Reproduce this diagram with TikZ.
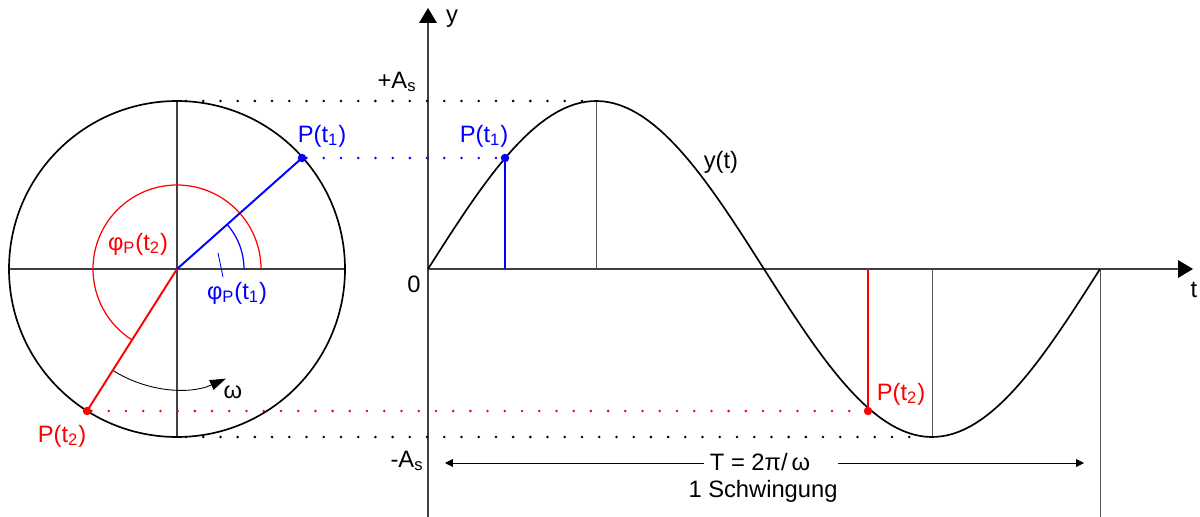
\documentclass[tikz,border=0pt]{standalone}
\usepackage{fontspec}
\setmainfont{Liberation Sans}
\usetikzlibrary{arrows.meta, positioning, calc}
\definecolor{ink}    {HTML}{000000}
\definecolor{axis}   {HTML}{404040}
\definecolor{pblue}  {HTML}{0000FF}
\definecolor{pred}   {HTML}{FF0000}
\tikzset{
  axisline/.style = {draw=axis, line width=0.6pt},
  guide/.style    = {draw=axis!90, line width=0.5pt},
  curve/.style    = {draw=ink, line width=0.95pt},
  phasor/.style   = {line width=1.1pt},
  dots/.style     = {line width=1.6pt, line cap=round,
                     dash pattern=on 0pt off 9.8pt},
  bigarr/.style   = {-{Triangle[length=8.5pt, width=10pt, color=ink]}},
  dimarr/.style   = {draw=ink, line width=0.5pt,
                     -{Triangle[length=4.5pt, width=4.5pt]}},
  pt/.style       = {circle, inner sep=0pt, minimum size=4.8pt},
  labl/.style     = {font=\fontsize{13.5}{16}\selectfont, inner sep=1pt},
}

\begin{document}
\begin{tikzpicture}[x=0.02cm, y=-0.02cm]
  \useasboundingbox (0,0) rectangle (1200,517);

  % circle with axes
  \coordinate (M) at (177,269);
  \draw[axisline] (9,269) -- (345,269);
  \draw[axisline] (177,101) -- (177,437);
  \draw[curve] (M) circle[radius=168];

  % angle arcs
  \draw[pred, line width=0.7pt] ($(M)+(84,0)$) arc[start angle=0, end angle=-237.5, radius=84];
  \draw[pblue, line width=0.7pt] ($(M)+(67,0)$) arc[start angle=0, end angle=-41.3, radius=67];
  \draw[ink, line width=0.5pt, -{Triangle[length=9pt, width=6pt]}]
    ($(M)+(122.5:120)$) arc[start angle=122.5, end angle=66, radius=120];

  % phasors
  \node[pt, fill=pblue] (p1c) at (302,158) {};
  \node[pt, fill=pred]  (p2c) at (87,411) {};
  \draw[phasor, pblue] (M) -- (p1c.center);
  \draw[phasor, pred]  (M) -- (p2c.center);

  % circle labels
  \node[labl, text=pblue] (p1clab) at (322,136) {P(t\textsubscript{1})};
  \node[labl, text=pred]  (p2clab) at (62,436)  {P(t\textsubscript{2})};
  \node[labl, text=pred]  (phitwo) at (138,244) {φ\textsubscript{P}(t\textsubscript{2})};
  \node[labl, text=pblue] (phione) at (237,293) {φ\textsubscript{P}(t\textsubscript{1})};
  \coordinate (phitip) at (218,253);
  \coordinate (phifoot) at (223,277);
  \draw[pblue, line width=0.5pt] (phifoot) -- (phitip);
  \node[labl] (omega) at (233,392) {ω};

  % diagram axes
  \draw[axisline, bigarr] (428,517) -- (428,8);
  \draw[axisline, bigarr] (428,269) -- (1193,269);
  \node[labl] (ylab) at (452,19)  {y};
  \node[labl] (tlab) at (1194,290) {t};
  \node[labl] (zero) at (414,284) {0};
  \node[labl] (amax) at (397,82)  {+A\textsubscript{s}};
  \node[labl] (amin) at (407,461) {-A\textsubscript{s}};

  % guide lines
  \draw[guide] (596,101) -- (596,269);
  \draw[guide] (932,269) -- (932,437);
  \draw[guide] (1100,269) -- (1100,517);

  % sine curve
  \draw[curve] plot[domain=0:360, samples=120] ({428+1.86667*\x}, {269-168*sin(\x)});
  \node[labl] (ylabel) at (721,162) {y(t)};

  % projected points
  \node[pt, fill=pblue] (p1s) at (505,158) {};
  \node[pt, fill=pred]  (p2s) at (868,411) {};
  \coordinate (p1foot) at (505,269);
  \coordinate (p2foot) at (868,269);
  \draw[phasor, pblue] (p1foot) -- (p1s.center);
  \draw[phasor, pred]  (p2foot) -- (p2s.center);
  \node[labl, text=pblue] (p1slab) at (484,136) {P(t\textsubscript{1})};
  \node[labl, text=pred]  (p2slab) at (901,394) {P(t\textsubscript{2})};

  % dotted projections
  \coordinate (ctop) at (186,101);
  \coordinate (cbot) at (186,437);
  \coordinate (peak) at (585,101);
  \coordinate (trough) at (922,437);
  \draw[dots, ink]   (ctop) -- (peak);
  \draw[dots, ink]   (cbot) -- (trough);
  \draw[dots, pblue] (p1c) -- (p1s);
  \draw[dots, pred]  (p2c) -- (p2s);

  % period
  \node[labl] (period) at (760,462) {T = 2π/\,ω};
  \node[labl] (swing) at (763,491) {1 Schwingung};
  \coordinate (tstart) at (445,463);
  \coordinate (tend) at (1084,463);
  \draw[dimarr] ($(period.west)+(-4,1)$) -- (tstart);
  \draw[dimarr] ($(period.east)+(26,1)$) -- (tend);

\end{tikzpicture}
\end{document}
